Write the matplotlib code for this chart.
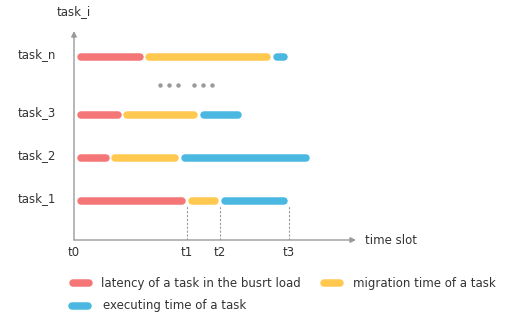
import matplotlib.pyplot as plt
from matplotlib.lines import Line2D

# task rows, bottom to top
tasks = ["task_1", "task_2", "task_3", "task_n"]
row_y = [39, 82, 125, 183]

# segment boundaries per task: start, end of latency, end of migration, end of execution
bounds = [
    [2, 113, 146, 215],
    [2, 36.5, 106, 237],
    [2, 48.5, 125, 169],
    [2, 70.5, 198, 215],
]

tick_pos = [0, 112.5, 145.5, 215]
tick_labels = ["t0", "t1", "t2", "t3"]

colors = ["#F47676", "#FFC950", "#4AB8E0"]
legend_labels = ["latency of a task in the busrt load",
                 "migration time of a task",
                 "executing time of a task"]

W, H = 507, 320
fig = plt.figure(figsize=(W / 100, H / 100), dpi=100)
ax = fig.add_axes([74 / W, 80 / H, 286 / W, 208 / H])
ax.set_xlim(0, 286)
ax.set_ylim(0, 208)
for s in ax.spines.values():
    s.set_visible(False)
ax.set_yticks([])
ax.set_xticks([])

plt.rcParams["font.family"] = ["DejaVu Sans"]
txt = "#333333"
grey = "#9a9a9a"
lw = 7.5 * 72 / 100
r = 3.75  # cap radius in data units (1 unit = 1 px)

# axes arrows
ax.annotate("", xy=(282, 0), xytext=(0, 0), annotation_clip=False,
            arrowprops=dict(arrowstyle="-|>", color=grey, lw=1, mutation_scale=8,
                            shrinkA=0, shrinkB=0))
ax.annotate("", xy=(0, 209), xytext=(0, 0), annotation_clip=False,
            arrowprops=dict(arrowstyle="-|>", color=grey, lw=1, mutation_scale=8,
                            shrinkA=0, shrinkB=0))

for y, b in zip(row_y, bounds):
    for i in range(3):
        x0 = b[i] + r + 1
        x1 = b[i + 1] - r - 1
        ax.plot([x0, x1], [y, y], color=colors[i], lw=lw,
                solid_capstyle="round", clip_on=False)

# dashed markers for task_1
for t in tick_pos[1:]:
    ax.plot([t, t], [0, row_y[0] - 4], color=grey, lw=0.8, ls=(0, (2, 1.5)))

# ellipsis dots between task_3 and task_n
for cx in [86, 95, 104, 120, 129, 138]:
    ax.plot(cx, 155, "o", color=grey, ms=3.2, mec="none")

for name, y in zip(tasks, row_y):
    ax.text(-18, y + 2, name, ha="right", va="center", fontsize=8.5, color=txt)

ax.text(-17, 228, "task_i", ha="left", va="center", fontsize=8.5, color=txt, clip_on=False)
ax.text(291, -1, "time slot", ha="left", va="center", fontsize=8.5, color=txt, clip_on=False)
for t, lab in zip(tick_pos, tick_labels):
    ax.text(t, -12, lab, ha="center", va="center", fontsize=8.5, color=txt)

# legend
leg_pos = [(69, 283), (320, 283), (68, 306)]
text_x = [101, 353, 103]
for (lx, ly), tx, c, lab in zip(leg_pos, text_x, colors, legend_labels):
    fig.add_artist(Line2D([(lx + 4) / W, (lx + 20) / W], [1 - ly / H, 1 - ly / H],
                          transform=fig.transFigure, color=c, lw=lw,
                          solid_capstyle="round"))
    fig.text(tx / W, 1 - ly / H, lab, ha="left", va="center", fontsize=8.5, color=txt)

fig.savefig("out.png", dpi=100)
